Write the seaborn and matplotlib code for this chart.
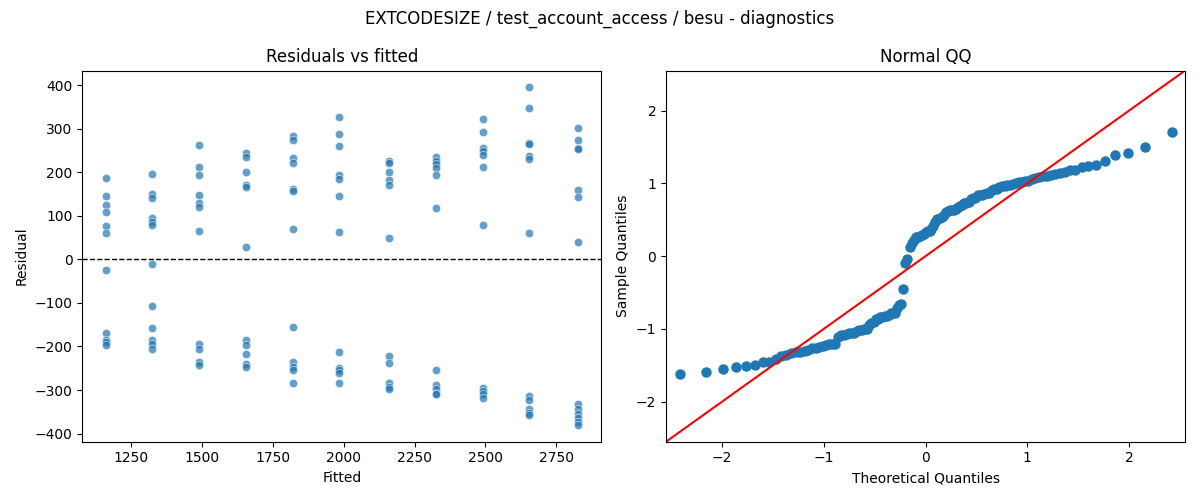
import numpy as np
import pandas as pd
import matplotlib
matplotlib.use("Agg")
import matplotlib.pyplot as plt
import seaborn as sns
from statistics import NormalDist

fitted_levels = [1162, 1326, 1490, 1655, 1820, 1985, 2160, 2325, 2490, 2655, 2825]
residual_groups = [
    [186, 145, 124, 108, 76, 60, -25, -170, -185, -190, -197],
    [196, 150, 140, 95, 85, 80, -10, -107, -158, -185, -195, -205],
    [262, 212, 195, 147, 130, 120, 65, -195, -205, -235, -242],
    [245, 235, 200, 170, 167, 28, -185, -197, -218, -240, -248],
    [283, 275, 232, 222, 162, 157, 70, -155, -235, -248, -253, -283],
    [328, 287, 260, 193, 185, 145, 62, -212, -250, -255, -262, -283],
    [225, 222, 200, 183, 172, 50, -222, -238, -285, -292, -297],
    [235, 227, 220, 210, 195, 118, -255, -288, -297, -308, -310],
    [323, 292, 255, 248, 240, 212, 78, -295, -302, -310, -318],
    [395, 347, 268, 265, 238, 230, 60, -313, -323, -343, -352, -358],
    [303, 275, 255, 253, 160, 143, 40, -333, -343, -355, -365, -373, -380],
]

fitted = []
resid = []
for f, g in zip(fitted_levels, residual_groups):
    fitted += [f] * len(g)
    resid += g
df = pd.DataFrame({"Fitted": fitted, "Residual": resid})

fig, axes = plt.subplots(1, 2, figsize=(12, 5), dpi=100)
ax = axes[0]
sns.scatterplot(data=df, x="Fitted", y="Residual", alpha=0.7, ax=ax)
ax.axhline(0, color="black", linestyle="--", linewidth=1)
ax.set_title("Residuals vs fitted")

r = np.array(resid, dtype=float)
z = np.sort((r - r.mean()) / r.std(ddof=1))
n = len(z)
nd = NormalDist()
theo = np.array([nd.inv_cdf(i / (n + 1)) for i in range(1, n + 1)])
ax2 = axes[1]
ax2.plot(theo, z, "o", color="C0", markersize=6.5)
ax2.set_xlim(-2.55, 2.55)
ax2.set_ylim(-2.55, 2.55)
ax2.plot([-3, 3], [-3, 3], color="red")
ax2.set_xlabel("Theoretical Quantiles")
ax2.set_ylabel("Sample Quantiles")
ax2.set_title("Normal QQ")

fig.suptitle("EXTCODESIZE / test_account_access / besu - diagnostics")
fig.tight_layout()
fig.savefig("out.png")
